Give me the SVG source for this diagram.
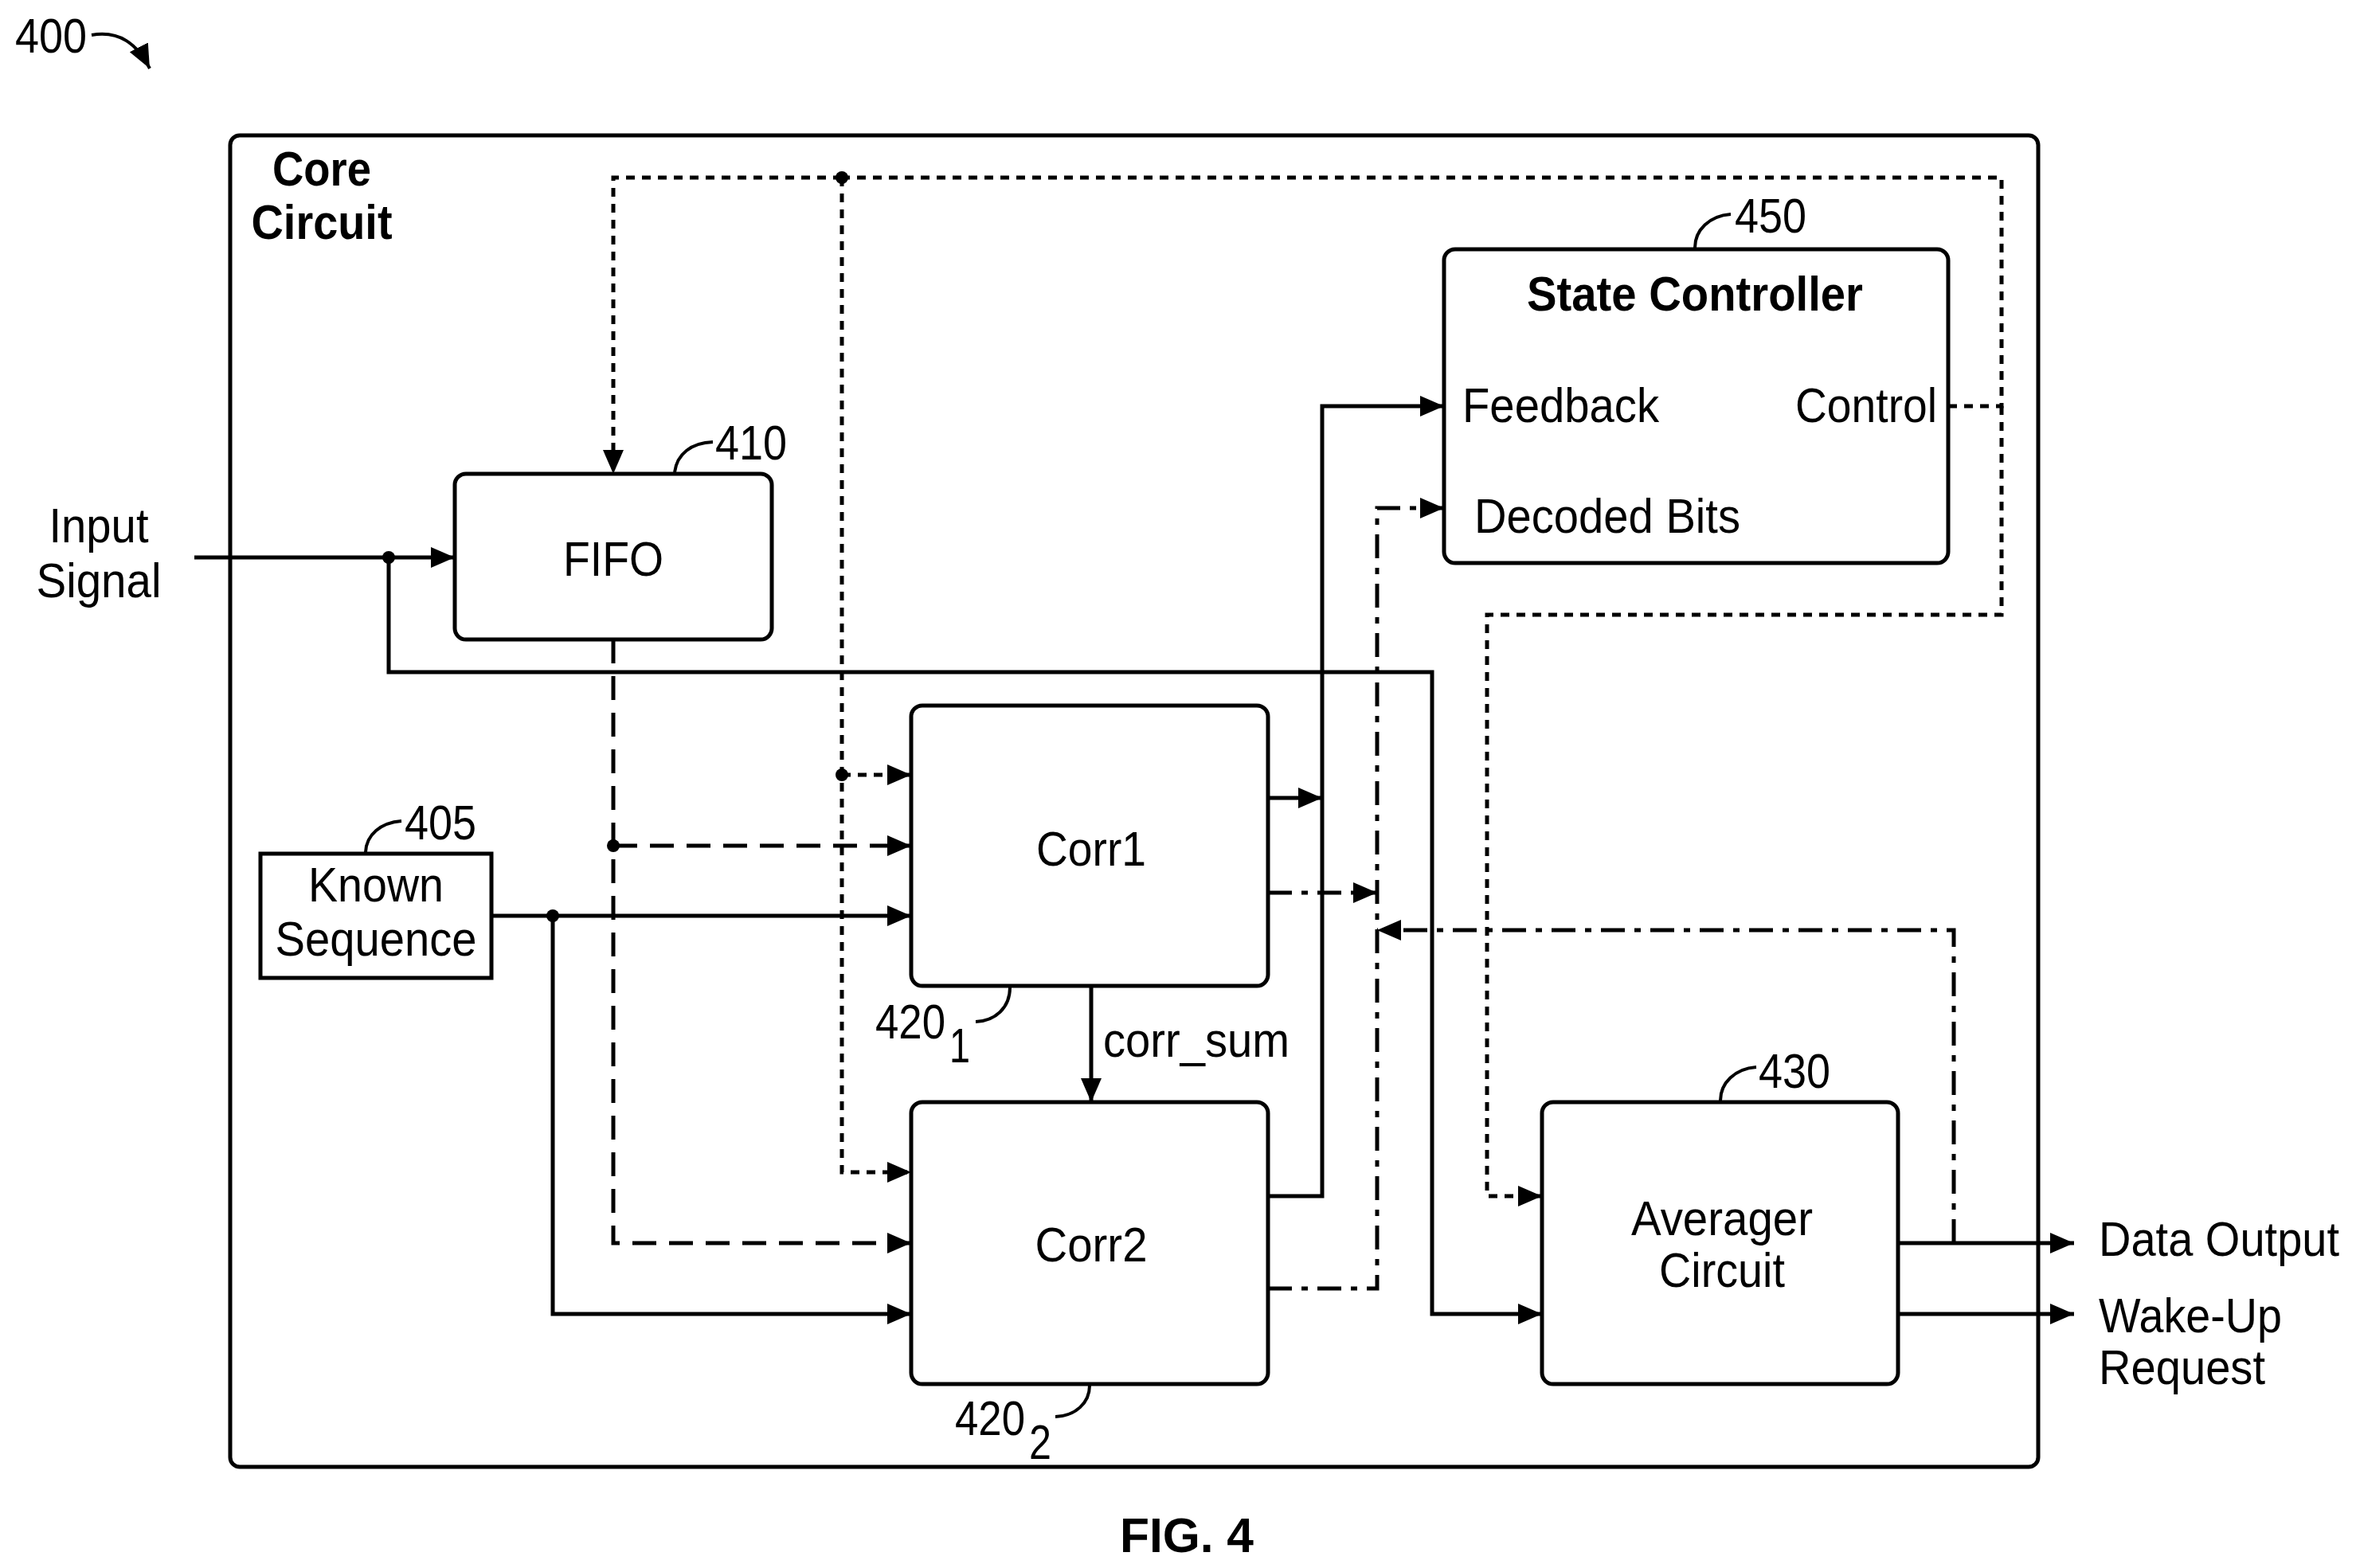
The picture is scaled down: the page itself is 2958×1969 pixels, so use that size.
<svg xmlns="http://www.w3.org/2000/svg" width="2958" height="1969" viewBox="0 0 2958 1969">
<style>
text{font-family:"Liberation Sans",Arial,sans-serif;font-size:62px;fill:#000}
.b{font-weight:bold}
.m{text-anchor:middle}
.box{fill:#fff;stroke:#000;stroke-width:5}
.w{fill:none;stroke:#000;stroke-width:5}
.dot{stroke-dasharray:11 9}
.dash{stroke-dasharray:30 16}
.dd{stroke-dasharray:30 12 8 12}
.lead{fill:none;stroke:#000;stroke-width:4}
</style>
<defs>
<marker id="a" markerUnits="userSpaceOnUse" markerWidth="32" markerHeight="26" refX="30" refY="13" orient="auto"><path d="M0,0 L30,13 L0,26 Z" fill="#000"/></marker>
</defs>
<rect x="0" y="0" width="2958" height="1969" fill="#fff"/>
<text x="19" y="66" textLength="90" lengthAdjust="spacingAndGlyphs">400</text>
<path class="lead" d="M115,44 C150,38 172,55 188,86" marker-end="url(#a)"/>
<rect id="core" x="289" y="170" width="2270" height="1672" rx="12" class="w"/>
<text class="b m" x="404" y="233" textLength="124" lengthAdjust="spacingAndGlyphs">Core</text>
<text class="b m" x="404" y="300" textLength="177" lengthAdjust="spacingAndGlyphs">Circuit</text>
<g id="connectors">
<path class="w dot" d="M1057,223 H770 V595" marker-end="url(#a)"/>
<path class="w dot" d="M2446,510 H2513 V223 H1057"/>
<path class="w dot" d="M2513,510 V772 H1867 V1502 H1936" marker-end="url(#a)"/>
<path class="w dot" d="M1057,223 V1472 H1144" marker-end="url(#a)"/>
<path class="w dot" d="M1057,973 H1144" marker-end="url(#a)"/>
<path class="w dash" d="M770,803 V1561 H1144" marker-end="url(#a)"/>
<path class="w dash" d="M770,1062 H1144" marker-end="url(#a)"/>
<path class="w" d="M244,700 H571" marker-end="url(#a)"/>
<path class="w" d="M488,700 V844 H1798 V1650 H1936" marker-end="url(#a)"/>
<path class="w" d="M617,1150 H1144" marker-end="url(#a)"/>
<path class="w" d="M694,1150 V1650 H1144" marker-end="url(#a)"/>
<path class="w" d="M1370,1238 V1384" marker-end="url(#a)"/>
<path class="w" d="M1592,1002 H1660" marker-end="url(#a)"/>
<path class="w" d="M1592,1502 H1660 V510 H1813" marker-end="url(#a)"/>
<path class="w dd" d="M1592,1121 H1729" marker-end="url(#a)"/>
<path class="w dd" d="M1592,1618 H1729 V638 H1813" marker-end="url(#a)"/>
<path class="w dd" d="M2453,1561 V1168 H1729" marker-end="url(#a)"/>
<path class="w" d="M2383,1561 H2604" marker-end="url(#a)"/>
<path class="w" d="M2383,1650 H2604" marker-end="url(#a)"/>
<circle cx="1057" cy="223" r="8"/>
<circle cx="1057" cy="973" r="8"/>
<circle cx="770" cy="1062" r="8"/>
<circle cx="488" cy="700" r="8"/>
<circle cx="694" cy="1150" r="8"/>
</g>
<text class="m" x="124" y="681" textLength="125" lengthAdjust="spacingAndGlyphs">Input</text>
<text class="m" x="124" y="750" textLength="157" lengthAdjust="spacingAndGlyphs">Signal</text>
<g id="fifo">
<rect x="571" y="595" width="398" height="208" rx="14" class="box"/>
<text class="m" x="770" y="723" textLength="126" lengthAdjust="spacingAndGlyphs">FIFO</text>
<path class="lead" d="M847,593 C850,570 868,556 895,555"/>
<text x="898" y="577" textLength="90" lengthAdjust="spacingAndGlyphs">410</text>
</g>
<g id="known">
<rect x="327" y="1072" width="290" height="156" class="box"/>
<text class="m" x="472" y="1132" textLength="170" lengthAdjust="spacingAndGlyphs">Known</text>
<text class="m" x="472" y="1200" textLength="253" lengthAdjust="spacingAndGlyphs">Sequence</text>
<path class="lead" d="M459,1070 C460,1048 478,1033 504,1031"/>
<text x="508" y="1054" textLength="90" lengthAdjust="spacingAndGlyphs">405</text>
</g>
<g id="corr1">
<rect x="1144" y="886" width="448" height="352" rx="14" class="box"/>
<text class="m" x="1370" y="1087" textLength="138" lengthAdjust="spacingAndGlyphs">Corr1</text>
<path class="lead" d="M1268,1240 C1268,1265 1250,1282 1225,1283"/>
<text x="1099" y="1304" textLength="88" lengthAdjust="spacingAndGlyphs">420</text>
<text x="1192" y="1334" textLength="26" lengthAdjust="spacingAndGlyphs">1</text>
</g>
<text x="1385" y="1327" textLength="234" lengthAdjust="spacingAndGlyphs">corr_sum</text>
<g id="corr2">
<rect x="1144" y="1384" width="448" height="354" rx="14" class="box"/>
<text class="m" x="1370" y="1584" textLength="141" lengthAdjust="spacingAndGlyphs">Corr2</text>
<path class="lead" d="M1368,1740 C1368,1762 1350,1778 1325,1779"/>
<text x="1199" y="1802" textLength="88" lengthAdjust="spacingAndGlyphs">420</text>
<text x="1292" y="1832" textLength="28" lengthAdjust="spacingAndGlyphs">2</text>
</g>
<g id="averager">
<rect x="1936" y="1384" width="447" height="354" rx="14" class="box"/>
<text class="m" x="2162" y="1551" textLength="228" lengthAdjust="spacingAndGlyphs">Averager</text>
<text class="m" x="2162" y="1616" textLength="158" lengthAdjust="spacingAndGlyphs">Circuit</text>
<path class="lead" d="M2160,1382 C2160,1360 2178,1342 2205,1340"/>
<text x="2208" y="1366" textLength="90" lengthAdjust="spacingAndGlyphs">430</text>
</g>
<g id="state">
<rect x="1813" y="313" width="633" height="394" rx="14" class="box"/>
<text class="b m" x="2128" y="390" textLength="422" lengthAdjust="spacingAndGlyphs">State Controller</text>
<text x="1836" y="530" textLength="247" lengthAdjust="spacingAndGlyphs">Feedback</text>
<text x="2254" y="530" textLength="178" lengthAdjust="spacingAndGlyphs">Control</text>
<text x="1851" y="669" textLength="334" lengthAdjust="spacingAndGlyphs">Decoded Bits</text>
<path class="lead" d="M2128,311 C2128,289 2146,271 2173,269"/>
<text x="2178" y="292" textLength="90" lengthAdjust="spacingAndGlyphs">450</text>
</g>
<text x="2635" y="1577" textLength="302" lengthAdjust="spacingAndGlyphs">Data Output</text>
<text x="2635" y="1673" textLength="230" lengthAdjust="spacingAndGlyphs">Wake-Up</text>
<text x="2635" y="1738" textLength="209" lengthAdjust="spacingAndGlyphs">Request</text>
<text class="b m" x="1490" y="1949" textLength="168" lengthAdjust="spacingAndGlyphs">FIG. 4</text>
</svg>
